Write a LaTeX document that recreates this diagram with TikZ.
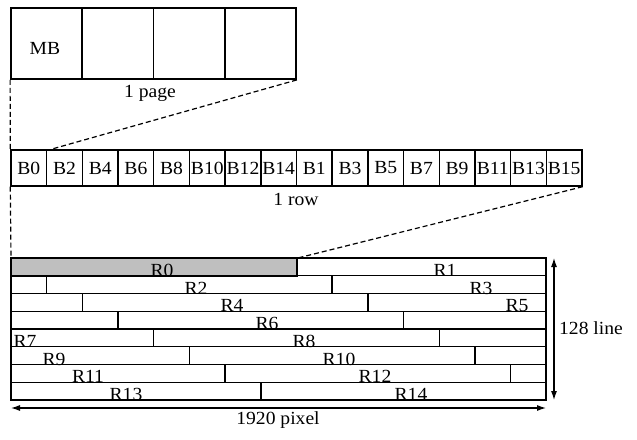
\documentclass[tikz,border=0pt]{standalone}
\usepackage{fontspec}
\setmainfont{Liberation Serif}[FakeStretch=1.06]
\usetikzlibrary{arrows.meta,calc}
\begin{document}
\begin{tikzpicture}[x=1pt,y=-1pt,
  every node/.style={font=\fontsize{18.5}{20}\selectfont},
  pagecell/.style={draw, line width=1.8pt, minimum width=71.25pt, minimum height=71pt, inner sep=0pt},
  rowcell/.style={draw, line width=1.4pt, minimum width=35.6875pt, minimum height=36pt, inner sep=0pt},
  gridline/.style={line width=1.4pt},
  zoomline/.style={line width=1.2pt, dash pattern=on 5pt off 3pt},
  lbl/.style={anchor=base, inner sep=0pt},
  dimarrow/.style={line width=1.1pt, {Latex[length=9pt,width=6pt]}-{Latex[length=9pt,width=6pt]}}
]
\useasboundingbox (0,0) rectangle (637,439);
\def\w{35.6875}
\def\rh{17.75}
% page
\foreach \i in {0,...,3}
  \node[pagecell] (p\i) at ({11+71.25*\i+35.625},43.5) {};
\node[lbl] (mb) at (45,54) {MB};
\node[lbl] (pagelbl) at (150,97) {1 page};
% row
\foreach \t [count=\i from 0] in {B0,B2,B4,B6,B8,B10,B12,B14,B1,B3,B5,B7,B9,B11,B13,B15}
  \node[rowcell] (b\i) at ({11+\w*\i+\w/2},168) {\t};
\node[lbl] (rowlbl) at (296,205) {1 row};
% grid
\coordinate (gtl) at (11,258);
\coordinate (gtr) at (546,258);
\coordinate (gbl) at (11,400);
\coordinate (gbr) at (546,400);
\node[draw, line width=1.4pt, fill=gray!50, minimum width={8*\w}, minimum height=\rh, inner sep=0pt, anchor=north west] (r0seg) at (gtl) {};
\foreach \k in {0,...,7}{
  \draw[gridline] (11,{258+\rh*\k}) rectangle (546,{258+\rh*(\k+1)});
  \ifnum\k>0
    \draw[gridline] ({11+\w*\k},{258+\rh*\k}) -- ({11+\w*\k},{258+\rh*(\k+1)});
  \fi
  \ifnum\k<7
    \draw[gridline] ({11+\w*(\k+8)},{258+\rh*\k}) -- ({11+\w*(\k+8)},{258+\rh*(\k+1)});
  \fi
}
\foreach \name/\x/\k in {R0/162/0, R1/445/0, R2/196/1, R3/481/1, R4/232/2, R5/517/2, R6/267/3,
  R7/25/4, R8/304/4, R9/54/5, R10/339/5, R11/88/6, R12/375/6, R13/126/7, R14/411/7}
  \node[lbl] (\name) at (\x,{258+\rh*(\k+1)+0.5}) {\name};
% zoom lines
\coordinate (b1tip) at ($(b1.north west)+(5,0)$);
\draw[zoomline] (p0.south west) -- (b0.north west);
\draw[zoomline] (p3.south east) -- (b1tip);
\draw[zoomline] (b0.south west) -- (gtl);
\draw[zoomline] (b15.south east) -- (r0seg.north east);
% dimensions
\coordinate (hl) at (11,408);
\coordinate (hr) at (546,408);
\coordinate (vt) at (554,258);
\coordinate (vb) at (554,400);
\draw[dimarrow] (hl) -- (hr);
\draw[dimarrow] (vt) -- (vb);
\node[lbl] (pix) at (278,424) {1920 pixel};
\node[lbl] (lines) at (591,334) {128 line};
\end{tikzpicture}
\end{document}
